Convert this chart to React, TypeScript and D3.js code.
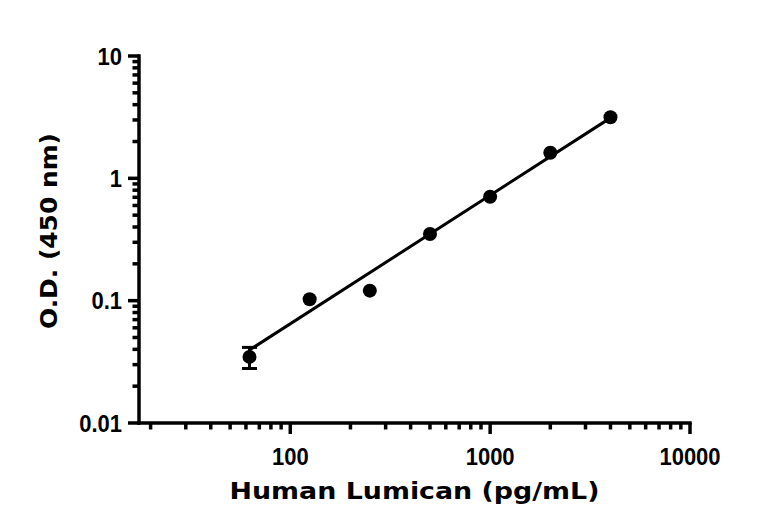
import React from 'react';
import * as d3 from 'd3';

// concentrations (pg/mL) and mean O.D. readings
const concentrations = [62.5, 125, 250, 500, 1000, 2000, 4000];
const odValues = [0.0347, 0.1026, 0.1207, 0.351, 0.708, 1.62, 3.16];
const odErrors = [0.0068, 0, 0, 0, 0, 0, 0];

// straight fit line in log-log space, endpoints
const fitX = [62.5, 4000];
const fitY = [0.0395, 3.12];

const xMajorTicks = [100, 1000, 10000];
const xMinorTicks = [20, 30, 40, 50, 60, 70, 80, 90, 200, 300, 400, 500, 600, 700, 800, 900, 2000, 3000, 4000, 5000, 6000, 7000, 8000, 9000];
const yMajorTicks = [0.01, 0.1, 1, 10];
const yTickLabels = ['0.01', '0.1', '1', '10'];
const yMinorTicks = [0.02, 0.03, 0.04, 0.05, 0.06, 0.07, 0.08, 0.09, 0.2, 0.3, 0.4, 0.5, 0.6, 0.7, 0.8, 0.9, 2, 3, 4, 5, 6, 7, 8, 9];

const width = 768;
const height = 532;
const left = 139;
const right = 690;
const top = 56;
const bottom = 423;

const tickFont = '"Liberation Sans", Arial, sans-serif';
const titleFont = '"DejaVu Sans", "Liberation Sans", sans-serif';

const App: React.FC = () => {
  const x = d3.scaleLog().domain([17.5, 10000]).range([left, right]);
  const y = d3.scaleLog().domain([0.01, 10]).range([bottom, top]);

  const fitLine = d3.line<number>()
    .x((d) => x(d))
    .y((_, i) => y(fitY[i]));

  return (
    <div style={{ position: 'absolute', left: 0, top: 0 }}>
      <svg width={width} height={height} style={{ display: 'block', background: '#fff' }}>
        {/* fit line */}
        <path d={fitLine(fitX) || ''} fill="none" stroke="#000" strokeWidth={3} />

        {/* error bars */}
        {concentrations.map((c, i) => odErrors[i] > 0 && (
          <g key={'e' + i} stroke="#000" strokeWidth={3}>
            <line x1={x(c)} x2={x(c)} y1={y(odValues[i] - odErrors[i])} y2={y(odValues[i] + odErrors[i])} />
            <line x1={x(c) - 7.5} x2={x(c) + 7.5} y1={y(odValues[i] - odErrors[i])} y2={y(odValues[i] - odErrors[i])} />
            <line x1={x(c) - 7.5} x2={x(c) + 7.5} y1={y(odValues[i] + odErrors[i])} y2={y(odValues[i] + odErrors[i])} />
          </g>
        ))}

        {/* points */}
        {concentrations.map((c, i) => (
          <circle key={'p' + i} cx={x(c)} cy={y(odValues[i])} r={7} fill="#000" />
        ))}

        {/* x axis */}
        <g stroke="#000" strokeWidth={3.5}>
          <line x1={left - 1.75} x2={right + 1.75} y1={bottom} y2={bottom} />
          {xMajorTicks.map((t) => (
            <line key={'xM' + t} x1={x(t)} x2={x(t)} y1={bottom} y2={bottom + 11} />
          ))}
          {xMinorTicks.map((t) => (
            <line key={'xm' + t} x1={x(t)} x2={x(t)} y1={bottom} y2={bottom + 6.5} />
          ))}
        </g>
        {xMajorTicks.map((t) => (
          <text key={'xl' + t} transform={`translate(${x(t)},465) scale(1,1.1)`} textAnchor="middle"
            fontFamily={tickFont} fontWeight="bold" fontSize={22} fill="#000">
            {d3.format('d')(t)}
          </text>
        ))}

        {/* y axis */}
        <g stroke="#000" strokeWidth={3.5}>
          <line x1={left} x2={left} y1={top - 1.75} y2={bottom + 1.75} />
          {yMajorTicks.map((t) => (
            <line key={'yM' + t} x1={left - 11} x2={left} y1={y(t)} y2={y(t)} />
          ))}
          {yMinorTicks.map((t) => (
            <line key={'ym' + t} x1={left - 6.5} x2={left} y1={y(t)} y2={y(t)} />
          ))}
        </g>
        {yMajorTicks.map((t, i) => (
          <text key={'yl' + t} transform={`translate(122,${y(t)}) scale(1,1.1)`} dy="0.36em" textAnchor="end"
            fontFamily={tickFont} fontWeight="bold" fontSize={22} fill="#000">
            {yTickLabels[i]}
          </text>
        ))}

        {/* axis titles */}
        <text x={(left + right) / 2} y={499} textAnchor="middle" fontFamily={titleFont} fontWeight="bold" fontSize={23}
          textLength={370} lengthAdjust="spacingAndGlyphs" fill="#000">
          Human Lumican (pg/mL)
        </text>
        <text transform="translate(57,231) rotate(-90)" textAnchor="middle" fontFamily={titleFont} fontWeight="bold" fontSize={23}
          textLength={196} lengthAdjust="spacingAndGlyphs" fill="#000">
          O.D. (450 nm)
        </text>
      </svg>
    </div>
  );
};

export default App;
